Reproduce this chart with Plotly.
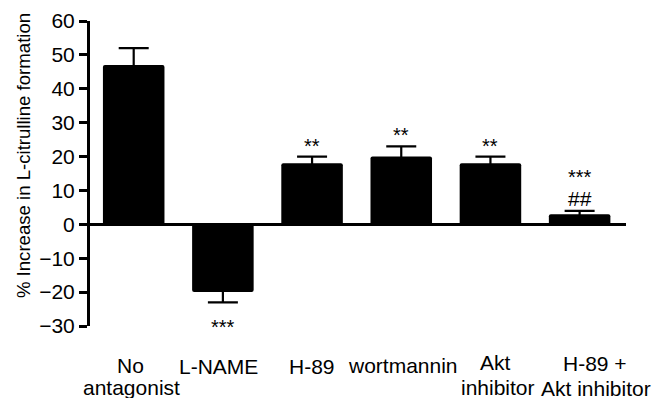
import plotly.graph_objects as go

categories = ["No<br>antagonist", "L-NAME", "H-89", "wortmannin", "Akt<br>inhibitor", "H-89 +<br>Akt inhibitor"]
means = [47, -20, 18, 20, 18, 3]
errors = [5, 3, 2, 3, 2, 1]
sig_star = ["", "***", "**", "**", "**", "***"]
sig_hash = ["", "", "", "", "", "##"]
y_ticks = [-30, -20, -10, 0, 10, 20, 30, 40, 50, 60]
y_title = "% Increase in L-citrulline formation"

FONT = "Liberation Sans, Arial, sans-serif"
x_idx = list(range(len(categories)))

# layout tweaks for the category labels (pixel offsets, styling only)
label_dx = [[-3, -2], [-4], [0], [2], [5, 8], [15, 16]]
label_dy = [[-39, -61], [-40], [-40], [-39], [-36, -61], [-37, -62]]

# page body has an 8px default margin, so the figure is offset by 8px
fig = go.Figure()
fig.add_trace(go.Bar(
    x=x_idx, y=means,
    marker=dict(color="black", line=dict(width=0), cornerradius=2),
    error_y=dict(type="data", array=errors, symmetric=True, color="black",
                 thickness=2.2, width=15),
    width=0.69,
))

for i, (m, e, s, h) in enumerate(zip(means, errors, sig_star, sig_hash)):
    tip = m + e if m >= 0 else m - e
    if h:
        fig.add_annotation(x=i, y=tip, text=h, showarrow=False, yanchor="middle",
                           yshift=12, font=dict(family=FONT, size=21, color="black"))
        if s:
            fig.add_annotation(x=i, y=tip, text=s, showarrow=False, yanchor="middle",
                               yshift=34, font=dict(family=FONT, size=20, color="black"))
    elif s:
        shift = 11 if m >= 0 else -25
        fig.add_annotation(x=i, y=tip, text=s, showarrow=False, yanchor="middle",
                           yshift=shift, font=dict(family=FONT, size=20, color="black"))

ymin = y_ticks[0]
for i, cat in enumerate(categories):
    for j, line in enumerate(cat.split("<br>")):
        fig.add_annotation(x=i, y=ymin, text=line, showarrow=False,
                           xanchor="center", yanchor="middle",
                           xshift=label_dx[i][j], yshift=label_dy[i][j],
                           font=dict(family=FONT, size=21, color="black"))

fig.add_annotation(xref="paper", yref="paper", x=-0.125, y=0.557, text=y_title,
                   textangle=-90, showarrow=False, xanchor="center", yanchor="middle",
                   font=dict(family=FONT, size=18.6, color="black"))

fig.update_layout(
    width=664, height=398,
    margin=dict(l=82, r=46, t=13, b=80),
    plot_bgcolor="white", paper_bgcolor="white",
    showlegend=False,
    font=dict(family=FONT, size=21, color="black"),
    xaxis=dict(
        tickmode="array", tickvals=x_idx, ticktext=[""] * len(x_idx),
        range=[-0.49, 5.52], showline=False, ticks="", showgrid=False,
        zeroline=False, automargin=False,
    ),
    yaxis=dict(
        range=[-30, 60], tickmode="array", tickvals=y_ticks,
        ticktext=[("\u2212" + str(abs(v))) if v < 0 else str(v) for v in y_ticks],
        showline=True, linewidth=3, linecolor="black",
        ticks="outside", ticklen=8, tickwidth=2.5, tickcolor="black",
        showgrid=False, zeroline=True, zerolinecolor="black", zerolinewidth=2.5,
        tickfont=dict(size=21), automargin=False,
    ),
)

fig.write_html("out.html")
